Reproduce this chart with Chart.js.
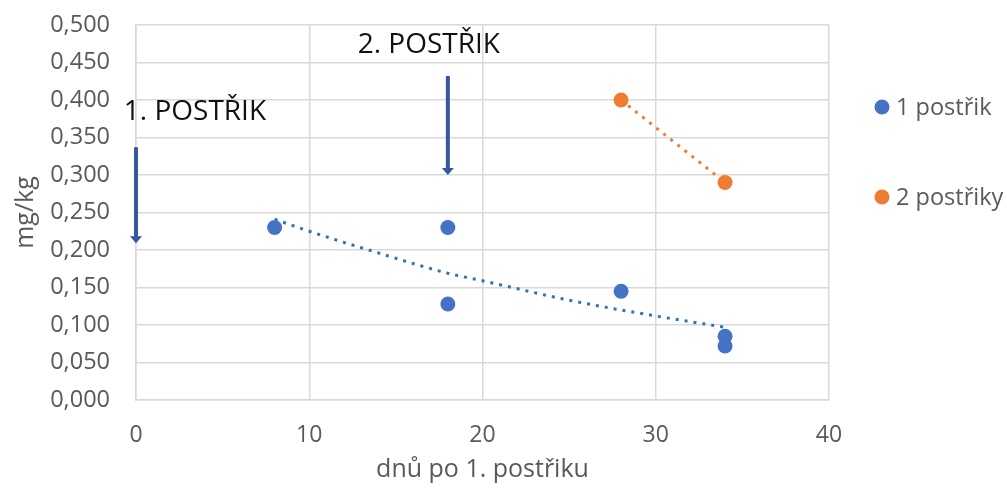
<!DOCTYPE html>
<html>
<head>
<meta charset="utf-8">
<script src="https://cdn.jsdelivr.net/npm/chart.js@4/dist/chart.umd.min.js"></script>
<style>
  html, body { margin: 0; padding: 0; background: #ffffff; }
  #wrap { width: 1007px; height: 489px; position: relative; }
</style>
</head>
<body>
<div id="wrap"><canvas id="c" width="1007" height="489"></canvas></div>
<script>
// Residue measurements: days after first spray vs. mg/kg
const seriesNames = ['1 postřik', '2 postřiky'];
const oneSprayDays = [8, 18, 18, 28, 34, 34];
const oneSprayValues = [0.230, 0.230, 0.128, 0.145, 0.085, 0.072];
const twoSprayDays = [28, 34];
const twoSprayValues = [0.400, 0.290];

// Exponential trend of the single-spray series
const oneTrendDays = [8, 10, 14, 18, 20, 25, 30, 34];
const oneTrendValues = [0.241, 0.225, 0.196, 0.169, 0.159, 0.133, 0.112, 0.097];
// Linear trend of the double-spray series
const twoTrendDays = [28, 34];
const twoTrendValues = [0.400, 0.290];

// Spray markers (arrows) and their captions
const sprayLabels = ['1. POSTŘIK', '2. POSTŘIK'];
const sprayLabelX = [3.4, 16.9];
const sprayLabelY = [0.373, 0.463];
const arrowX = [0, 18];
const arrowFrom = [0.337, 0.432];
const arrowTo = [0.209, 0.300];

const xTicks = [0, 10, 20, 30, 40];
const yMin = 0, yMax = 0.5, yStep = 0.05;

const BLUE = '#4472C4';
const BLUE_TREND = '#2E75B6';
const ORANGE = '#ED7D31';
const ARROW = '#34589E';
const GRID = '#d9d9d9';
const TEXT = '#595959';
const FONT = "'Open Sans', 'DejaVu Sans', sans-serif";

const toPts = (xs, ys) => xs.map((x, i) => ({ x, y: ys[i] }));

const annotations = {
  id: 'sprayNotes',
  afterDatasetsDraw(chart) {
    const { ctx, scales: { x, y } } = chart;
    ctx.save();
    // arrows
    ctx.strokeStyle = ARROW;
    ctx.fillStyle = ARROW;
    ctx.lineWidth = 4;
    arrowX.forEach((ax, i) => {
      const px = x.getPixelForValue(ax);
      const y0 = y.getPixelForValue(arrowFrom[i]);
      const y1 = y.getPixelForValue(arrowTo[i]);
      ctx.beginPath();
      ctx.moveTo(px, y0);
      ctx.lineTo(px, y1 - 6);
      ctx.stroke();
      ctx.beginPath();
      ctx.moveTo(px - 6, y1 - 7);
      ctx.lineTo(px + 6, y1 - 7);
      ctx.lineTo(px, y1);
      ctx.closePath();
      ctx.fill();
    });
    // captions
    ctx.fillStyle = '#111111';
    ctx.font = `28px ${FONT}`;
    ctx.textAlign = 'center';
    ctx.textBaseline = 'alphabetic';
    sprayLabels.forEach((t, i) => {
      ctx.fillText(t, x.getPixelForValue(sprayLabelX[i]), y.getPixelForValue(sprayLabelY[i]));
    });
    ctx.restore();
  },
  afterDraw(chart) {
    // legend for the two measured series
    const { ctx, chartArea } = chart;
    const rowY = [82, 172];
    ctx.save();
    ctx.font = `23.5px ${FONT}`;
    ctx.textBaseline = 'middle';
    ctx.textAlign = 'left';
    [0, 1].forEach((dsIndex, i) => {
      const ds = chart.data.datasets[dsIndex];
      const cx = chartArea.right + 53;
      const cy = chartArea.top + rowY[i];
      ctx.fillStyle = ds.backgroundColor;
      ctx.beginPath();
      ctx.arc(cx, cy, 7.5, 0, Math.PI * 2);
      ctx.fill();
      ctx.fillStyle = TEXT;
      ctx.fillText(ds.label, cx + 14, cy + 1);
    });
    ctx.restore();
  }
};

new Chart(document.getElementById('c'), {
  type: 'scatter',
  data: {
    datasets: [
      {
        label: seriesNames[0],
        data: toPts(oneSprayDays, oneSprayValues),
        backgroundColor: BLUE,
        borderColor: BLUE,
        pointRadius: 7.5,
        pointBorderWidth: 0,
        order: 1
      },
      {
        label: seriesNames[1],
        data: toPts(twoSprayDays, twoSprayValues),
        backgroundColor: ORANGE,
        borderColor: ORANGE,
        pointRadius: 7.5,
        pointBorderWidth: 0,
        order: 1
      },
      {
        label: 'trend 1',
        data: toPts(oneTrendDays, oneTrendValues),
        showLine: true,
        borderColor: BLUE_TREND,
        borderWidth: 3,
        borderDash: [3, 6],
        pointRadius: 0,
        cubicInterpolationMode: 'monotone',
        order: 2
      },
      {
        label: 'trend 2',
        data: toPts(twoTrendDays, twoTrendValues),
        showLine: true,
        borderColor: ORANGE,
        borderWidth: 3,
        borderDash: [3, 6],
        pointRadius: 0,
        order: 2
      }
    ]
  },
  options: {
    responsive: false,
    animation: false,
    layout: { padding: { left: 0, right: 178, top: 25, bottom: 0 } },
    plugins: {
      legend: { display: false },
      tooltip: { enabled: false }
    },
    scales: {
      x: {
        type: 'linear',
        min: xTicks[0],
        max: xTicks[xTicks.length - 1],
        afterBuildTicks: (s) => { s.ticks = xTicks.map(v => ({ value: v })); },
        afterFit: (s) => { s.height = 89; },
        grid: { color: GRID, lineWidth: 1.5, drawTicks: false },
        border: { color: GRID, width: 1.5 },
        ticks: { color: TEXT, font: { family: FONT, size: 23 }, padding: 22 },
        title: {
          display: true,
          text: 'dnů po 1. postřiku',
          color: TEXT,
          font: { family: FONT, size: 25 },
          padding: { top: 6 }
        }
      },
      y: {
        min: yMin,
        max: yMax,
        ticks: {
          stepSize: yStep,
          color: TEXT,
          font: { family: FONT, size: 23.5 },
          padding: 26,
          callback: (v) => v.toFixed(3).replace('.', ',')
        },
        afterFit: (s) => { s.width = 136; s.paddingTop = 0; s.paddingBottom = 0; },
        grid: { color: GRID, lineWidth: 1.5, drawTicks: false },
        border: { color: GRID, width: 1.5 },
        title: {
          display: true,
          text: 'mg/kg',
          color: TEXT,
          font: { family: FONT, size: 25 },
          padding: { top: 11, bottom: 0 }
        }
      }
    }
  },
  plugins: [annotations]
});
</script>
</body>
</html>
